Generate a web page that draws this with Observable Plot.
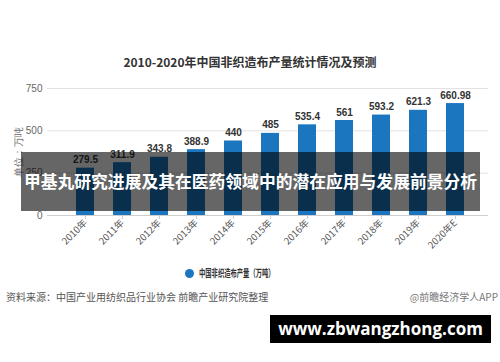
<!DOCTYPE html>
<html>
<head>
<meta charset="utf-8">
<script src="https://cdn.jsdelivr.net/npm/d3@7"></script>
<script src="https://cdn.jsdelivr.net/npm/@observablehq/plot@0.6"></script>
<style>
  html, body { margin: 0; padding: 0; background: #fff; }
  #wrap { position: relative; width: 500px; height: 362px; overflow: hidden; font-family: "Noto Sans CJK SC", "Noto Sans", sans-serif; }
  #wrap svg { position: absolute; left: 0; top: 0; }
  .abs { position: absolute; white-space: nowrap; }
</style>
</head>
<body>
<div id="wrap"></div>
<script>
const years = ["2010年","2011年","2012年","2013年","2014年","2015年","2016年","2017年","2018年","2019年","2020年E"];
const output = [279.5, 311.9, 343.8, 388.9, 440, 485, 535.4, 561, 593.2, 621.3, 660.98];
const valueLabels = ["279.5","311.9","343.8","388.9","440","485","535.4","561","593.2","621.3","660.98"];
const yTicks = [0, 250, 500, 750];
const chartTitle = "2010-2020年中国非织造布产量统计情况及预测";
const yLabel = "单位：万吨";
const legendLabel = "中国非织造布产量（万吨）";
const sourceText = "资料来源：中国产业用纺织品行业协会 前瞻产业研究院整理";
const creditText = "@前瞻经济学人APP";
const bannerText = "甲基丸研究进展及其在医药领域中的潜在应用与发展前景分析";
const siteText = "www.zbwangzhong.com";

const data = years.map((y, i) => ({year: y, value: output[i], label: valueLabels[i]}));
const barColor = "#1b75bf";

const chart = Plot.plot({
  width: 500,
  height: 362,
  marginTop: 88,
  marginBottom: 147,
  marginLeft: 47,
  marginRight: 12,
  insetLeft: 6,
  insetRight: 1,
  style: {fontFamily: "'Noto Sans CJK SC', sans-serif", background: "transparent"},
  x: {domain: years, padding: 0.52, label: null},
  y: {domain: [0, 750], label: null},
  marks: [
    Plot.ruleY([250, 500, 750], {stroke: "#e2e2e2", strokeWidth: 1}),
    Plot.barY(data, {x: "year", y: "value", fill: barColor}),
    Plot.ruleY([0], {stroke: "#cfcfcf", strokeWidth: 1}),
    Plot.text(data, {x: "year", y: "value", text: "label", dy: -5, lineAnchor: "bottom",
      fill: "#333", fontWeight: "bold", fontSize: 10, fontFamily: "'Liberation Sans', Arial, sans-serif"}),
    Plot.axisY({ticks: yTicks, tickSize: 0, tickPadding: 5, fill: "#666", fontSize: 10,
      fontFamily: "'Liberation Sans', Arial, sans-serif",
      label: yLabel, labelAnchor: "center", labelArrow: "none", labelOffset: 33}),
    Plot.axisX({tickSize: 4, tickPadding: 2, tickRotate: -45, fill: "#555", stroke: "#ccc",
      fontSize: 9.5, fontFamily: "'Noto Sans CJK SC', sans-serif", label: null})
  ]
});

const wrap = document.getElementById("wrap");
wrap.appendChild(chart);
chart.querySelectorAll("[aria-label='y-axis label'] text").forEach(t => { t.setAttribute("fill", "#666"); t.setAttribute("font-size", 10); });

function addDiv(text, css) {
  const d = document.createElement("div");
  d.className = "abs";
  d.textContent = text;
  Object.assign(d.style, css);
  wrap.appendChild(d);
  return d;
}

addDiv(chartTitle, {left: "0px", width: "500px", textAlign: "center", top: "53px", fontSize: "12px", fontWeight: "bold", color: "#333", lineHeight: "18px"});

// legend
const dot = document.createElement("div");
dot.className = "abs";
Object.assign(dot.style, {left: "185px", top: "269px", width: "9px", height: "9px", borderRadius: "50%", background: barColor});
wrap.appendChild(dot);
addDiv(legendLabel, {left: "199px", top: "265px", fontSize: "10.5px", fontWeight: "bold", color: "#333", lineHeight: "16px", transformOrigin: "0 50%", transform: "scaleX(0.6)"});

addDiv(sourceText, {left: "6px", top: "289px", fontSize: "10px", color: "#555", lineHeight: "16px"});
addDiv(creditText, {right: "2px", top: "289px", fontSize: "10px", color: "#777", lineHeight: "16px"});

// banner overlay
addDiv(bannerText, {left: "21px", top: "152px", width: "459px", height: "59px", lineHeight: "59px", background: "rgba(0,0,0,0.6)", color: "#fff", fontWeight: "bold", fontSize: "16.8px", textAlign: "center"});

// site watermark
addDiv(siteText, {left: "270px", top: "315px", width: "221px", height: "28px", lineHeight: "28px", background: "#000", color: "#fff", fontWeight: "bold", fontSize: "17px", textAlign: "center", fontFamily: "'Open Sans', sans-serif"});
</script>
</body>
</html>
